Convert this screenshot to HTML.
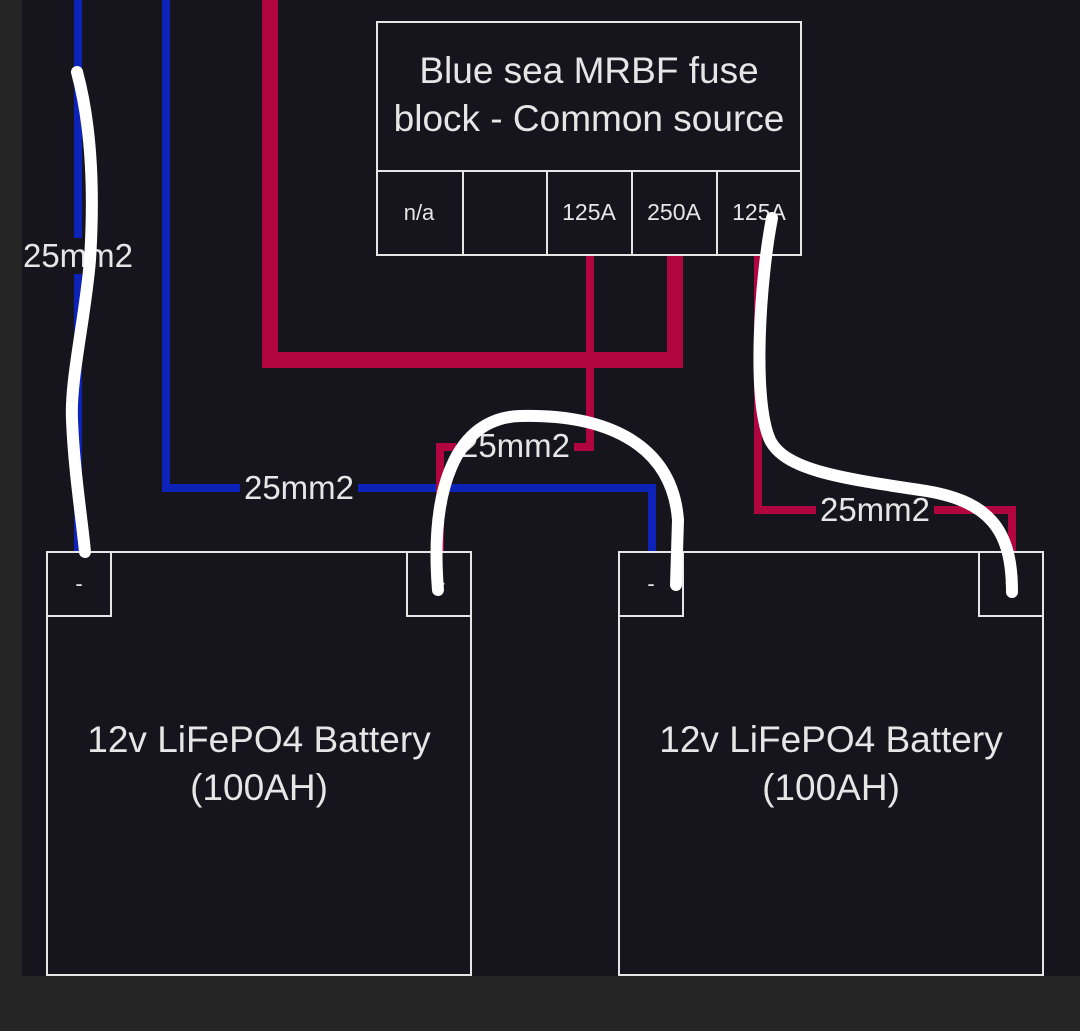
<!DOCTYPE html>
<html><head><style>
html,body{margin:0;padding:0;}
body{width:1080px;height:1031px;background:#262626;position:relative;overflow:hidden;font-family:"Liberation Sans",sans-serif;}
</style></head><body>
<svg width="1080" height="1031" viewBox="0 0 1080 1031" style="position:absolute;left:0;top:0">
<rect x="0" y="0" width="1080" height="1031" fill="#252525"/>
<rect x="22" y="0" width="1058" height="976" fill="#16141c"/>
<g fill="none" stroke-linejoin="miter">
<path d="M78,0 V552" stroke="#0d23b8" stroke-width="8"/>
<path d="M166,0 V488 H652 V552" stroke="#0d23b8" stroke-width="8"/>
<path d="M270,0 V360 H675 V255" stroke="#b0053f" stroke-width="16"/>
<path d="M590,255 V447 H440 V552" stroke="#b0053f" stroke-width="8"/>
<path d="M758,255 V510 H1012 V552" stroke="#b0053f" stroke-width="8"/>
</g>
<g fill="#16141c" stroke="#e6e6e6" stroke-width="2">
<rect x="377" y="22" width="424" height="233"/>
<line x1="377" y1="171" x2="801" y2="171"/>
<rect x="377" y="171" width="86" height="84"/>
<rect x="547" y="171" width="85" height="84"/>
<rect x="632" y="171" width="85" height="84"/>
<rect x="717" y="171" width="84" height="84"/>
<rect x="47" y="552" width="424" height="423"/>
<rect x="47" y="552" width="64" height="64"/>
<rect x="407" y="552" width="64" height="64"/>
<rect x="619" y="552" width="424" height="423"/>
<rect x="619" y="552" width="64" height="64"/>
<rect x="979" y="552" width="64" height="64"/>
</g>
<g fill="#e6e6e6" font-family="Liberation Sans, sans-serif" text-anchor="middle">
<text x="589" y="83" font-size="37">Blue sea MRBF fuse</text>
<text x="589" y="131" font-size="37">block - Common source</text>
<text x="419" y="220" font-size="22">n/a</text>
<text x="589" y="220" font-size="23">125A</text>
<text x="674" y="220" font-size="23">250A</text>
<text x="759" y="220" font-size="23">125A</text>
<text x="79" y="591" font-size="22">-</text>
<text x="439" y="591" font-size="22">+</text>
<text x="651" y="591" font-size="22">-</text>
<text x="1011" y="591" font-size="22">+</text>
<text x="259" y="752" font-size="37">12v LiFePO4 Battery</text>
<text x="259" y="800" font-size="37">(100AH)</text>
<text x="831" y="752" font-size="37">12v LiFePO4 Battery</text>
<text x="831" y="800" font-size="37">(100AH)</text>
</g>
<g font-family="Liberation Sans, sans-serif" font-size="33" text-anchor="middle" fill="#e6e6e6">
<rect x="22" y="238" width="114" height="36" fill="#16141c"/>
<text x="78" y="267">25mm2</text>
<rect x="240" y="470" width="118" height="36" fill="#16141c"/>
<text x="299" y="499">25mm2</text>
<rect x="456" y="428" width="118" height="36" fill="#16141c"/>
<text x="515" y="457">25mm2</text>
<rect x="816" y="492" width="118" height="36" fill="#16141c"/>
<text x="875" y="521">25mm2</text>
</g>
<g fill="none" stroke="#ffffff" stroke-width="12" stroke-linecap="round" stroke-linejoin="round">
<path d="M77,72 C90,120 95,180 90,260 C85,320 70,380 72,420 C74,470 82,520 85,552"/>
<path d="M438,590 C430,490 455,418 520,416 C600,414 672,440 678,520 L676,585"/>
<path d="M772,218 C760,280 752,400 770,440 C785,470 840,478 920,490 C990,500 1012,530 1012,592"/>
</g>
</svg>
</body></html>
